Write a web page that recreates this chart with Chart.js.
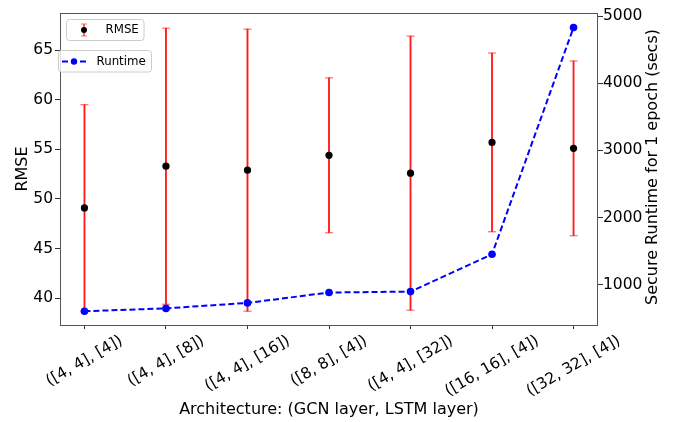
<!DOCTYPE html>
<html><head><meta charset="utf-8">
<script src="https://cdn.jsdelivr.net/npm/chart.js@4"></script>
<style>html,body{margin:0;padding:0;background:#fff}#wrap{width:675px;height:422px}</style>
</head><body><div id="wrap"><canvas id="c" width="675" height="422"></canvas></div>
<script>
const categories = ["([4, 4], [4])", "([4, 4], [8])", "([4, 4], [16])", "([8, 8], [4])", "([4, 4], [32])", "([16, 16], [4])", "([32, 32], [4])"];
const rmseMean = [49.1, 53.3, 52.9, 54.4, 52.6, 55.7, 55.1];
const rmseErr = [10.4, 13.9, 14.2, 7.8, 13.8, 9.0, 8.8];
const runtimeSecs = [608, 650, 732, 886, 900, 1456, 4830];
const rmseTicks = [40, 45, 50, 55, 60, 65];
const runtimeTicks = [1000, 2000, 3000, 4000, 5000];

const FONT = "'DejaVu Sans', sans-serif";
const RED = 'rgba(255,0,0,0.9)';
const CAP = 'rgba(255,30,30,0.65)';

const extrasPlugin = {
  id: 'extras',
  afterDatasetsDraw(chart) {
    const ctx = chart.ctx, a = chart.chartArea;
    ctx.save();
    ctx.strokeStyle = '#555';
    ctx.lineWidth = 1;
    ctx.strokeRect(a.left + 0.5, a.top + 0.5, a.right - a.left - 1, a.bottom - a.top);
    ctx.restore();
  },
  afterDraw(chart) {
    const ctx = chart.ctx, a = chart.chartArea;
    const xs = chart.scales.x;
    ctx.save();
    ctx.font = '15.5px ' + FONT;
    ctx.fillStyle = '#000';
    ctx.textAlign = 'center';
    ctx.textBaseline = 'middle';
    categories.forEach((lab, i) => {
      const x = xs.getPixelForValue(i);
      const w = ctx.measureText(lab).width;
      const H = w * 0.5 + 18 * 0.866;
      const cy = a.bottom + 7 + H / 2;
      ctx.save();
      ctx.translate(x, cy);
      ctx.rotate(-Math.PI / 6);
      ctx.fillText(lab, 0, 0);
      ctx.restore();
    });
    ctx.save();
    ctx.font = '16px ' + FONT;
    ctx.translate(653, (a.top + a.bottom) / 2 - 2);
    ctx.rotate(-Math.PI / 2);
    ctx.fillText('Secure Runtime for 1 epoch (secs)', 0, 0);
    ctx.restore();

    function box(x, y, w, h) {
      const r = 3;
      ctx.beginPath();
      ctx.moveTo(x + r, y);
      ctx.lineTo(x + w - r, y); ctx.arcTo(x + w, y, x + w, y + r, r);
      ctx.lineTo(x + w, y + h - r); ctx.arcTo(x + w, y + h, x + w - r, y + h, r);
      ctx.lineTo(x + r, y + h); ctx.arcTo(x, y + h, x, y + h - r, r);
      ctx.lineTo(x, y + r); ctx.arcTo(x, y, x + r, y, r);
      ctx.closePath();
      ctx.fillStyle = 'rgba(255,255,255,0.8)';
      ctx.fill();
      ctx.strokeStyle = '#cccccc';
      ctx.lineWidth = 1;
      ctx.stroke();
    }
    ctx.font = '11.8px ' + FONT;
    ctx.textAlign = 'left';
    ctx.textBaseline = 'middle';
    box(66.5, 19.5, 77.5, 21);
    ctx.strokeStyle = RED; ctx.lineWidth = 1.3;
    ctx.beginPath(); ctx.moveTo(84, 24); ctx.lineTo(84, 36); ctx.stroke();
    ctx.strokeStyle = CAP; ctx.lineWidth = 1.2;
    ctx.beginPath(); ctx.moveTo(81, 24); ctx.lineTo(87, 24); ctx.moveTo(81, 36); ctx.lineTo(87, 36); ctx.stroke();
    ctx.fillStyle = '#000';
    ctx.beginPath(); ctx.arc(84, 30, 3, 0, Math.PI * 2); ctx.fill();
    ctx.fillText('RMSE', 105.5, 30);
    box(58.5, 50.5, 93, 21.5);
    ctx.strokeStyle = '#0000ff'; ctx.lineWidth = 2;
    ctx.setLineDash([6, 3]);
    ctx.beginPath(); ctx.moveTo(62, 61.5); ctx.lineTo(86, 61.5); ctx.stroke();
    ctx.setLineDash([]);
    ctx.fillStyle = '#0000ff';
    ctx.beginPath(); ctx.arc(74, 61.5, 3.2, 0, Math.PI * 2); ctx.fill();
    ctx.fillStyle = '#000';
    ctx.fillText('Runtime', 96.5, 61.5);
    ctx.restore();
  }
};

const lows = rmseMean.map((m, i) => m - rmseErr[i]);
const highs = rmseMean.map((m, i) => m + rmseErr[i]);

new Chart(document.getElementById('c'), {
  type: 'scatter',
  data: {
    datasets: [
      {
        type: 'line', label: 'Runtime',
        data: runtimeSecs.map((v, i) => ({x: i, y: v})),
        xAxisID: 'x', yAxisID: 'y2',
        borderColor: '#0000ff', backgroundColor: '#0000ff',
        borderWidth: 2, borderDash: [6, 3],
        pointRadius: 3.8, pointBorderWidth: 0,
        fill: false, tension: 0, order: 0
      },
      {
        type: 'scatter', label: 'RMSE',
        data: rmseMean.map((v, i) => ({x: i, y: v})),
        xAxisID: 'x', yAxisID: 'y',
        backgroundColor: '#000', borderColor: '#000',
        pointRadius: 3.6, pointBorderWidth: 0, order: 1
      },
      {
        type: 'scatter', label: 'caps',
        data: lows.map((v, i) => ({x: i, y: v})).concat(highs.map((v, i) => ({x: i, y: v}))),
        xAxisID: 'x', yAxisID: 'y',
        pointStyle: 'line', pointRadius: 4, borderColor: CAP, borderWidth: 1.2, order: 2
      },
      {
        type: 'bar', label: 'err',
        data: lows.map((v, i) => ({x: i, y: [v, highs[i]]})),
        xAxisID: 'x', yAxisID: 'y',
        backgroundColor: RED, borderWidth: 0, barThickness: 1.2, order: 3
      }
    ]
  },
  options: {
    responsive: false, devicePixelRatio: 1, animation: false, events: [],
    layout: {padding: {top: 13, left: 0, right: 0, bottom: 0}},
    plugins: {legend: {display: false}, tooltip: {enabled: false}},
    scales: {
      x: {
        type: 'linear', position: 'bottom', min: -0.3, max: 6.3, offset: false,
        afterBuildTicks: s => { s.ticks = categories.map((_, i) => ({value: i})); },
        ticks: {display: false},
        grid: {display: true, drawOnChartArea: false, drawTicks: true, tickLength: 4, color: '#333', offset: false},
        border: {display: false},
        title: {display: true, text: 'Architecture: (GCN layer, LSTM layer)', color: '#000', font: {family: FONT, size: 16}, padding: {top: 0, bottom: 2.4}},
        afterFit: s => { s.height = 97; }
      },
      y: {
        type: 'linear', position: 'left', min: 37.31, max: 68.73,
        afterBuildTicks: s => { s.ticks = rmseTicks.map(v => ({value: v})); },
        ticks: {color: '#000', font: {family: FONT, size: 15.5}, padding: 2, callback: v => String(v)},
        grid: {display: true, drawOnChartArea: false, drawTicks: true, tickLength: 5, color: '#333'},
        border: {display: false},
        title: {display: true, text: 'RMSE', color: '#000', font: {family: FONT, size: 16}, padding: {top: 13.4, bottom: 0}},
        afterFit: s => { s.width = 60; }
      },
      y2: {
        type: 'linear', position: 'right', min: 403, max: 5045,
        afterBuildTicks: s => { s.ticks = runtimeTicks.map(v => ({value: v})); },
        ticks: {color: '#000', font: {family: FONT, size: 15.5}, padding: 0, callback: v => String(v)},
        grid: {display: true, drawOnChartArea: false, drawTicks: true, tickLength: 5, color: '#333'},
        border: {display: false},
        title: {display: false},
        afterFit: s => { s.width = 77; }
      }
    }
  },
  plugins: [extrasPlugin]
});
</script>
</body></html>
